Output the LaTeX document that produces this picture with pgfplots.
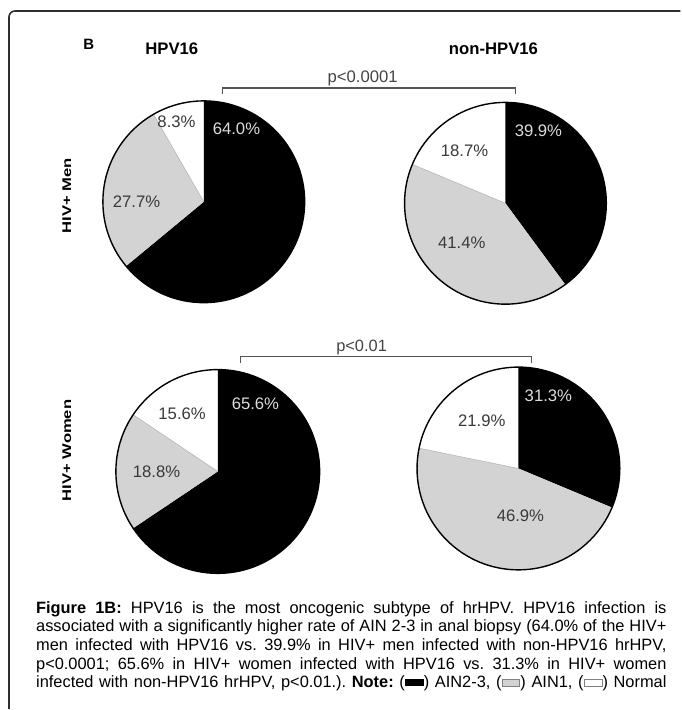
\documentclass[border=0pt]{standalone}
\usepackage{pgfplots}
\pgfplotsset{compat=1.18}
\usepackage{fontspec}
\setmainfont{Liberation Sans}
\usepackage{graphicx}
\definecolor{ainone}{HTML}{D3D3D3}
\definecolor{lblL}{HTML}{DCDCDC}
\definecolor{lblD}{HTML}{3A3A3A}
\definecolor{framec}{HTML}{2E2E2E}
\definecolor{brk}{HTML}{555555}
% #1 cx, #2 cy, #3 r, #4 AIN2-3, #5 AIN1, #6 Normal
\newcommand{\pie}[6]{%
  \fill[white] (#1,#2) circle[radius=#3bp];
  \fill[black] (#1,#2) -- ++(90:#3bp) arc[start angle=90,end angle={90-3.6*#4},radius=#3bp] -- cycle;
  \fill[ainone] (#1,#2) -- ++({90-3.6*#4}:#3bp) arc[start angle={90-3.6*#4},end angle={90-3.6*(#4+#5)},radius=#3bp] -- cycle;
  \draw[gray!60, line width=0.5bp] (#1,#2) -- ++({90-3.6*(#4+#5)}:#3bp);
  \draw[black, line width=1.4bp] (#1,#2) circle[radius=#3bp];
}
\newcommand{\capline}[2]{\node[anchor=base west, inner sep=0pt, font=\fontsize{16.4bp}{18.6bp}\selectfont] at (36,#1) {\frenchspacing\makebox[631bp][s]{#2}};}
\begin{document}
\frenchspacing
\begin{tikzpicture}
\begin{axis}[width=681bp, height=710bp, scale only axis,
  xmin=0, xmax=681, ymin=0, ymax=710, y dir=reverse,
  hide axis, clip=false]
\path (0,0) rectangle (681,710);
% frame
\draw[framec, line width=1.6bp, rounded corners=6bp] (9,710) -- (9,11) -- (681,11);
% headers
\node[font=\fontsize{15bp}{18bp}\selectfont\bfseries] at (89,44.5) {B};
\node[font=\fontsize{16.7bp}{20bp}\selectfont\bfseries] at (172,49) {HPV16};
\node[font=\fontsize{16.7bp}{20bp}\selectfont\bfseries] at (494,49) {non-HPV16};
% side labels
\node[rotate=90, font=\fontsize{12.6bp}{15bp}\selectfont\bfseries] at (67,196) {\scalebox{1.32}[1]{HIV+ Men}};
\node[rotate=90, font=\fontsize{12.6bp}{15bp}\selectfont\bfseries] at (67,451) {\scalebox{1.32}[1]{HIV+ Women}};
% brackets
\draw[brk, line width=1.3bp] (223,94) -- (223,88) -- (516,88) -- (516,94);
\node[anchor=base, inner sep=0pt, text=brk!80!black, font=\fontsize{16.7bp}{20bp}\selectfont] at (363,83) {p<0.0001};
\draw[brk, line width=1.3bp] (241,363) -- (241,357) -- (532,357) -- (532,363);
\node[anchor=base, inner sep=0pt, text=brk!80!black, font=\fontsize{16.4bp}{20bp}\selectfont] at (362,352) {p<0.01};
% pies
\pie{204}{202}{101}{64.0}{27.7}{8.3}
\pie{506}{203.5}{101}{39.9}{41.4}{18.7}
\pie{218}{472}{102}{65.6}{18.8}{15.6}
\pie{519}{469}{101.5}{31.3}{46.9}{21.9}
% pie labels
\begin{scope}[every node/.style={font=\fontsize{16.7bp}{20bp}\selectfont, inner sep=0pt}]
\node[text=lblL] at (236.7,129.3) {64.0\%};
\node[text=lblD] at (176.7,122.3) {8.3\%};
\node[text=lblD] at (136.7,201.7) {27.7\%};
\node[text=lblL] at (539,130.7) {39.9\%};
\node[text=lblD] at (465,150.7) {18.7\%};
\node[text=lblD] at (462.3,242.7) {41.4\%};
\node[text=lblL] at (255.7,404.3) {65.6\%};
\node[text=lblD] at (182.3,414.3) {15.6\%};
\node[text=lblD] at (156.7,472.3) {18.8\%};
\node[text=lblL] at (549,396.7) {31.3\%};
\node[text=lblD] at (482.3,421.7) {21.9\%};
\node[text=lblD] at (521,516.7) {46.9\%};
\end{scope}
% caption
\capline{614}{\textbf{Figure 1B:} HPV16 is the most oncogenic subtype of hrHPV. HPV16 infection is}
\capline{632.6}{associated with a significantly higher rate of AIN 2-3 in anal biopsy (64.0\% of the HIV+}
\capline{651.2}{men infected with HPV16 vs. 39.9\% in HIV+ men infected with non-HPV16 hrHPV,}
\capline{669.8}{p<0.0001; 65.6\% in HIV+ women infected with HPV16 vs. 31.3\% in HIV+ women}
\capline{688.4}{infected with non-HPV16 hrHPV, p<0.01.). \textbf{Note:} (\raisebox{2bp}{\rule{19bp}{7bp}}) AIN2-3, ({\setlength\fboxsep{0pt}\setlength\fboxrule{1bp}\raisebox{2bp}{\fcolorbox{gray}{ainone}{\rule{0pt}{6bp}\hspace{17bp}}}}) AIN1, ({\setlength\fboxsep{0pt}\setlength\fboxrule{1bp}\raisebox{2bp}{\fcolorbox{gray}{white}{\rule{0pt}{6bp}\hspace{17bp}}}}) Normal}
\end{axis}
\end{tikzpicture}
\end{document}
